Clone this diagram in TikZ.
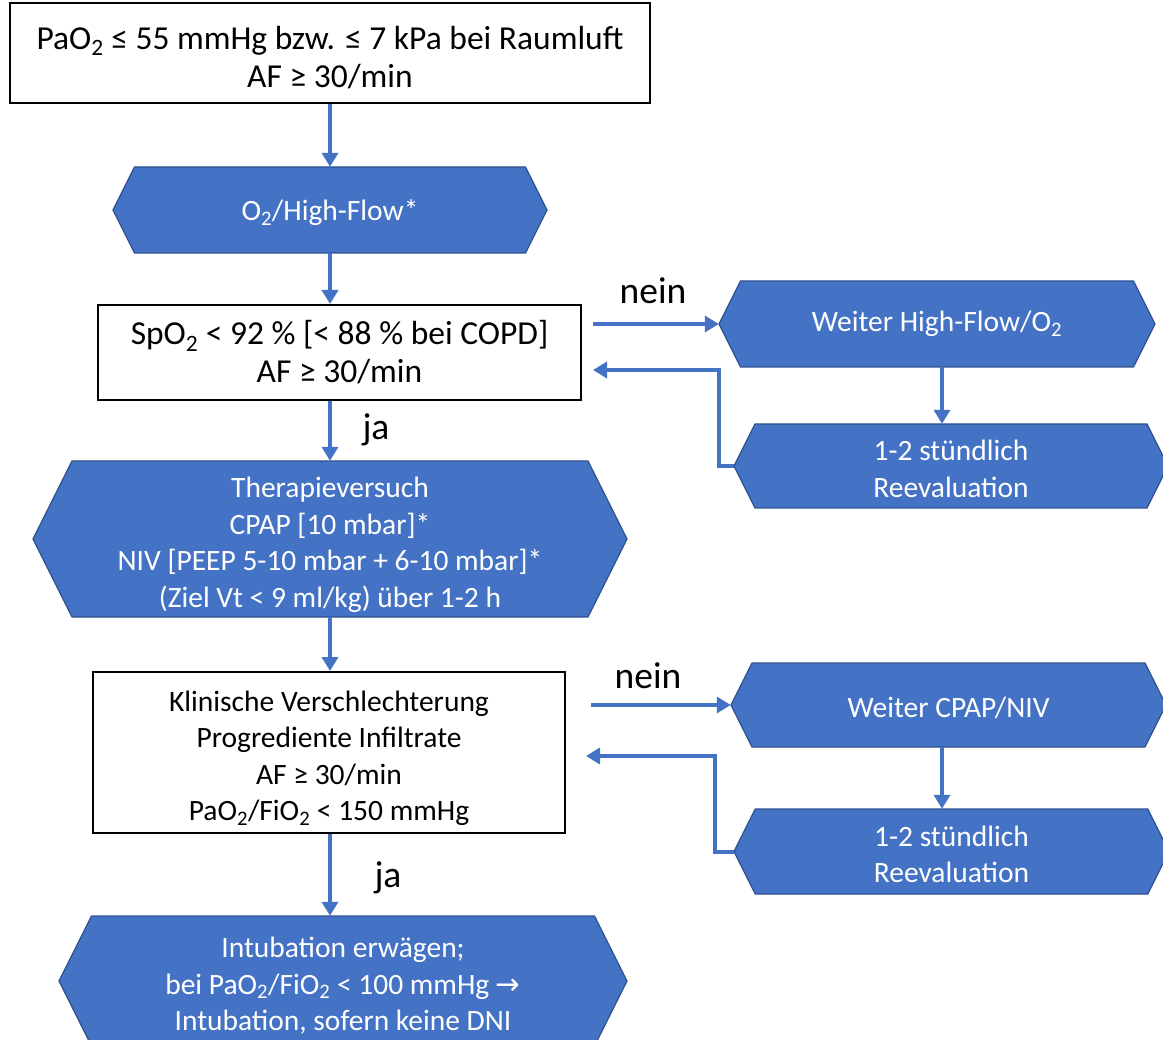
\documentclass[tikz,border=0pt]{standalone}
\usepackage{fontspec}
\setmainfont{Carlito}
\newfontfamily\symfont{DejaVu Sans}
\usetikzlibrary{arrows.meta,calc}
\definecolor{obl}{HTML}{4472C4}
\definecolor{obd}{HTML}{2F528F}
\tikzset{
 arr/.style={draw=obl, line width=4pt, -{Triangle[length=14pt,width=16pt]}},
 wbox/.style={draw=black, line width=2pt, fill=white, align=center, inner sep=0pt},
 big/.style={font=\fontsize{33.5}{38}\selectfont},
 mid/.style={font=\fontsize{29.5}{36.5}\selectfont},
 hexfill/.style={fill=obl, draw=obd, line width=1.2pt},
 hextext/.style={text=white, align=center, inner sep=0pt, mid},
 lbl/.style={font=\fontsize{37.5}{40}\selectfont, inner sep=0pt},
}
\newcommand\tup[1]{\rule{0pt}{#1pt}}
\newcommand\hexnode[6]{%
  \pgfmathsetmacro\hexd{(#5-#4)/4}%
  \pgfmathsetmacro\hexm{(#4+#5)/2}%
  \pgfmathsetmacro\hexc{(#2+#3)/2}%
  \pgfmathsetmacro\hexw{#3-#2}%
  \pgfmathsetmacro\hexh{#5-#4}%
  \path[hexfill] (#2,\hexm) -- ({#2+\hexd},#4) -- ({#3-\hexd},#4) -- (#3,\hexm) -- ({#3-\hexd},#5) -- ({#2+\hexd},#5) -- cycle;
  \node[hextext, minimum width=\hexw pt, minimum height=\hexh pt] (#1) at (\hexc,\hexm) {#6};
}
\begin{document}
\begin{tikzpicture}[x=1pt,y=-1pt]
\useasboundingbox[fill=white] (0,0) rectangle (1163,1040);
\clip (0,0) rectangle (1163,1040);

% left column
\node[wbox, big, minimum width=640pt, minimum height=100pt] (top) at (330,53)
  {\tup{32}PaO\textsubscript{2} ≤ 55 mmHg bzw. ≤ 7 kPa bei Raumluft\\AF ≥ 30/min};
\hexnode{o2}{113}{547}{167}{253}{\tup{26}O\textsubscript{2}/High-Flow*}
\node[wbox, big, minimum width=483pt, minimum height=95pt] (spo) at (339.5,352.5)
  {SpO\textsubscript{2} < 92 \% [< 88 \% bei COPD]\\AF ≥ 30/min};
\hexnode{ther}{33}{627}{461}{617}{\tup{32}Therapieversuch\\CPAP [10 mbar]*\\NIV [PEEP 5-10 mbar + 6-10 mbar]*\\(Ziel Vt < 9 ml/kg) über 1-2 h}
\node[wbox, mid, minimum width=472pt, minimum height=161pt] (klin) at (329,752.5)
  {\tup{32}Klinische Verschlechterung\\Progrediente Infiltrate\\AF ≥ 30/min\\PaO\textsubscript{2}/FiO\textsubscript{2} < 150 mmHg};
\hexnode{intu}{59}{627}{916}{1046}{\tup{30}Intubation erwägen;\\bei PaO\textsubscript{2}/FiO\textsubscript{2} < 100 mmHg {\symfont\fontsize{29.5}{36.5}\selectfont →}\\Intubation, sofern keine DNI}

% right column
\hexnode{hf}{719}{1155}{281}{367}{Weiter High-Flow/O\textsubscript{2}}
\hexnode{re1}{734}{1168}{424}{508}{\tup{26}1-2 stündlich\\Reevaluation}
\hexnode{cp}{731}{1166}{663}{747}{\tup{26}Weiter CPAP/NIV}
\hexnode{re2}{734}{1169}{809}{894}{\tup{26}1-2 stündlich\\Reevaluation}

% labels
\node[lbl] (nein1) at (653,291) {nein};
\node[lbl] (nein2) at (648,676) {nein};
\node[lbl] (ja1) at (376,430) {ja};
\node[lbl] (ja2) at (388,878) {ja};

% helper coordinates
\coordinate (ax) at (330,0);
\coordinate (rx) at (942,0);
\coordinate (n1s) at (593,324);
\coordinate (b1e) at (593,370);
\coordinate (n2s) at (591,705);
\coordinate (b2e) at (586,756);

% main flow
\draw[arr] (top.south -| ax) -- (o2.north -| ax);
\draw[arr] (o2.south -| ax) -- (spo.north -| ax);
\draw[arr] (spo.south -| ax) -- (ther.north -| ax);
\draw[arr] (ther.south -| ax) -- (klin.north -| ax);
\draw[arr] (klin.south -| ax) -- (intu.north -| ax);

% side loops
\draw[arr] (n1s) -- (hf.west);
\draw[arr] (hf.south -| rx) -- (re1.north -| rx);
\draw[arr] (re1.west) -- ++(-15,0) |- (b1e);
\draw[arr] (n2s) -- (cp.west);
\draw[arr] (cp.south -| rx) -- (re2.north -| rx);
\draw[arr] (re2.west) -- ++(-19,0) |- (b2e);
\end{tikzpicture}
\end{document}
